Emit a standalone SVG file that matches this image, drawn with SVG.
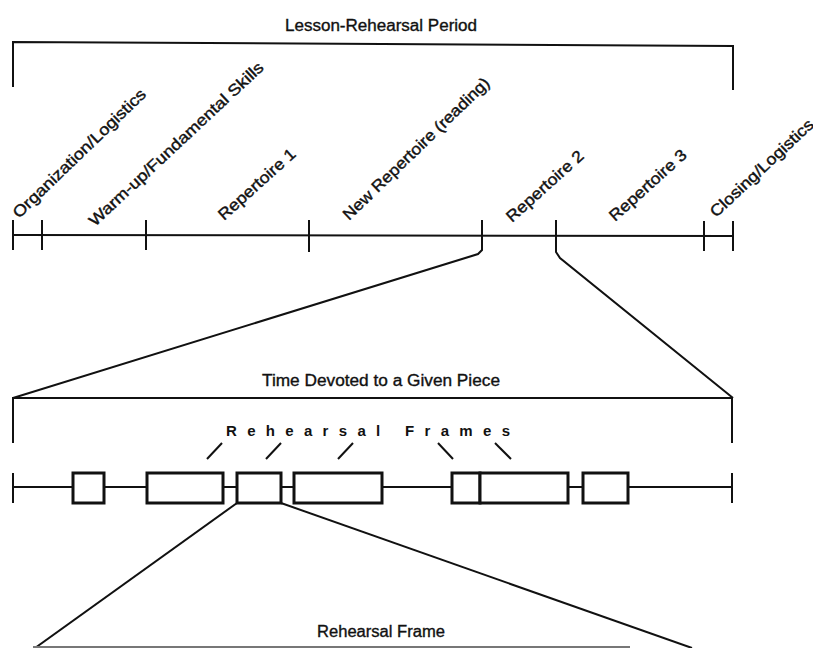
<svg xmlns="http://www.w3.org/2000/svg" width="813" height="648" viewBox="0 0 813 648">
<style>
.ln{fill:none;stroke:#111;stroke-width:2;stroke-linecap:butt;stroke-linejoin:miter}
.bx{fill:#fff;stroke:#111;stroke-width:3}
.t{font-family:"Liberation Sans","DejaVu Sans",sans-serif;font-size:16px;fill:#111;stroke:#111;stroke-width:0.35}
.rl{font-family:"Liberation Sans","DejaVu Sans",sans-serif;font-size:16px;fill:#111;stroke:#111;stroke-width:0.4}
.rf{font-family:"Liberation Sans","DejaVu Sans",sans-serif;font-size:15px;font-weight:bold;fill:#111}
</style>
<rect width="813" height="648" fill="#fff"/>

<g id="lesson-period">
<text class="t" x="381" y="31" text-anchor="middle" textLength="192" lengthAdjust="spacingAndGlyphs">Lesson-Rehearsal Period</text>
<polyline class="ln" points="13,87 13,42 733,46 733,90"/>
</g>

<g id="timeline-1">
<line class="ln" x1="13" y1="235" x2="733" y2="236"/>
<line class="ln" x1="13" y1="220" x2="13" y2="250"/>
<line class="ln" x1="42" y1="220" x2="42" y2="250"/>
<line class="ln" x1="146" y1="220" x2="146" y2="250"/>
<line class="ln" x1="309" y1="220" x2="309" y2="252"/>
<line class="ln" x1="704" y1="221" x2="704" y2="251"/>
<line class="ln" x1="733" y1="221" x2="733" y2="251"/>
</g>

<g id="segment-labels">
<text class="rl" transform="translate(19,219) rotate(-44)" textLength="178" lengthAdjust="spacingAndGlyphs">Organization/Logistics</text>
<text class="rl" transform="translate(95,227) rotate(-43)" textLength="232" lengthAdjust="spacingAndGlyphs">Warm-up/Fundamental Skills</text>
<text class="rl" transform="translate(224,221) rotate(-42)" textLength="98" lengthAdjust="spacingAndGlyphs">Repertoire 1</text>
<text class="rl" transform="translate(349,221) rotate(-44)" textLength="197" lengthAdjust="spacingAndGlyphs">New Repertoire (reading)</text>
<text class="rl" transform="translate(512,223) rotate(-42)" textLength="98" lengthAdjust="spacingAndGlyphs">Repertoire 2</text>
<text class="rl" transform="translate(615,222) rotate(-42)" textLength="98" lengthAdjust="spacingAndGlyphs">Repertoire 3</text>
<text class="rl" transform="translate(716,218) rotate(-43)" textLength="135" lengthAdjust="spacingAndGlyphs">Closing/Logistics</text>
</g>

<g id="connectors">
<polyline class="ln" points="482,220 482,250 478,254 13,398"/>
<polyline class="ln" points="556,220 556,252 560,258 733,398"/>
<polyline class="ln" points="237,503 35,648"/>
<polyline class="ln" points="281,503 692,648"/>
<line class="ln" x1="207" y1="459" x2="222" y2="443"/>
<line class="ln" x1="266" y1="459" x2="281" y2="443"/>
<line class="ln" x1="338" y1="459" x2="353" y2="443"/>
<line class="ln" x1="438" y1="443" x2="453" y2="459"/>
<line class="ln" x1="495" y1="443" x2="511" y2="459"/>
</g>

<g id="piece-time">
<text class="t" x="381" y="386" text-anchor="middle" textLength="238" lengthAdjust="spacingAndGlyphs">Time Devoted to a Given Piece</text>
<polyline class="ln" points="13,443 13,398 732,398 732,443"/>
</g>

<g id="frames-label">
<text class="rf" x="226" y="436" textLength="284" lengthAdjust="spacing">Rehearsal Frames</text>
</g>

<g id="timeline-2">
<line class="ln" x1="13" y1="487" x2="732" y2="487"/>
<line class="ln" x1="13" y1="473" x2="13" y2="503"/>
<line class="ln" x1="732" y1="473" x2="732" y2="503"/>
<rect class="bx" x="73" y="473" width="31" height="30"/>
<rect class="bx" x="147" y="473" width="76" height="30"/>
<rect class="bx" x="237" y="473" width="44" height="30"/>
<rect class="bx" x="294" y="473" width="88" height="30"/>
<rect class="bx" x="452" y="473" width="28" height="30"/>
<rect class="bx" x="480" y="473" width="88" height="30"/>
<rect class="bx" x="583" y="473" width="45" height="30"/>
</g>

<g id="rehearsal-frame">
<text class="t" x="381" y="637" text-anchor="middle" textLength="128" lengthAdjust="spacingAndGlyphs">Rehearsal Frame</text>
<line x1="33" y1="647" x2="630" y2="647" stroke="#777" stroke-width="2"/>
</g>
</svg>
